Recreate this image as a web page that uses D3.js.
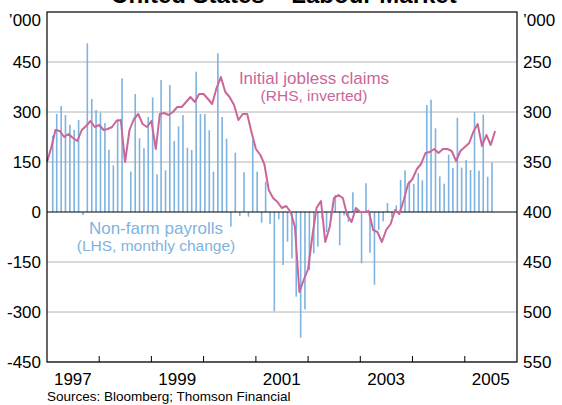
<!DOCTYPE html>
<html>
<head>
<meta charset="utf-8">
<script src="https://cdn.jsdelivr.net/npm/d3@7"></script>
<style>
    body { margin: 0; background: #fff; }
    text { font-family: Arial, "Liberation Sans", sans-serif; }
</style>
</head>
<body>
<div id="chart"></div>
<script>
// monthly change in non-farm payrolls ('000), Jan 1997 - Jun 2005
var payrolls = [
    229, 294, 318, 291, 262, 246, 276, -9, 506, 339, 306, 298,
    267, 187, 140, 279, 401, 0, 121, 354, 221, 191, 285, 344,
    113, 396, 125, 381, 213, 257, 291, 193, 186, 421, 294, 294,
    245, 121, 476, 285, 220, -44, 178, -12, 119, -14, 215, 121,
    -32, 91, -36, -298, -22, -159, -89, -139, -254, -377, -292, -174,
    -124, -104, -20, -60, -15, 51, -100, -10, -30, 59, 10, -154,
    86, -122, -218, -54, -28, 27, -15, 20, 96, 125, 93, 84,
    117, 95, 321, 337, 251, 107, 85, 172, 132, 283, 133, 156,
    126, 300, 124, 292, 106, 148
];

// initial jobless claims ('000), Jan 1997 - Aug 2005
var claims = [
    350, 335, 318, 319, 325, 322, 326, 329, 318, 314, 309, 315,
    313, 318, 317, 315, 309, 308, 350, 318, 307, 302, 312, 315,
    309, 337, 302, 301, 303, 300, 295, 295, 290, 285, 290, 282,
    282, 287, 292, 276, 265, 280, 285, 293, 308, 302, 302, 320,
    337, 343, 352, 378, 386, 390, 396, 394, 400, 415, 480, 468,
    457, 423, 396, 389, 430, 415, 386, 383, 386, 403, 410, 396,
    400, 400, 399, 418, 420, 430, 418, 412, 398, 402, 388, 372,
    367, 357, 352, 341, 340, 337, 341, 337, 337, 339, 349, 339,
    335, 331, 320, 312, 334, 323, 333, 319
];

var leftTicks = [-450, -300, -150, 0, 150, 300, 450];
var rightTicks = [250, 300, 350, 400, 450, 500, 550];
var yearTicks = [1998, 1999, 2000, 2001, 2002, 2003, 2004, 2005];
var yearLabels = [1997, 1999, 2001, 2003, 2005];

var BAR_COLOR = "#7fb3e0",
    LINE_COLOR = "#c9679a";

var svg = d3.select("#chart").append("svg").attr("width", 562).attr("height", 405),
    margin = {top: 12, right: 45, bottom: 43, left: 47},
    width = +svg.attr("width") - margin.left - margin.right,
    height = +svg.attr("height") - margin.top - margin.bottom;

var x = d3.scaleTime()
    .domain([new Date(1997, 0, 1), new Date(2006, 0, 1)])
    .range([0, width]);
var yLeft = d3.scaleLinear().domain([-450, 600]).range([height, 0]);
var yRight = d3.scaleLinear().domain([200, 550]).range([0, height]);   // inverted

svg.append("text")
    .attr("x", 284).attr("y", 3)
    .attr("text-anchor", "middle")
    .style("font-size", "24px").style("font-weight", "bold")
    .text("United States – Labour Market");

var g = svg.append("g")
    .attr("transform", "translate(" + margin.left + "," + margin.top + ")");

// gridlines
g.selectAll(".grid")
    .data(leftTicks.filter(function(d) { return d !== 0; }))
    .enter().append("line")
    .attr("class", "grid")
    .attr("x1", 0).attr("x2", width)
    .attr("y1", function(d) { return yLeft(d); })
    .attr("y2", function(d) { return yLeft(d); })
    .attr("stroke", "#b4b4b4").attr("stroke-width", 1);

// payroll bars
g.selectAll(".bar")
    .data(payrolls)
    .enter().append("rect")
    .attr("class", "bar")
    .attr("x", function(d, i) { return x(new Date(1997, i + 1, 10)) - 0.8; })
    .attr("width", 1.6)
    .attr("y", function(d) { return yLeft(Math.max(d, 0)); })
    .attr("height", function(d) { return Math.abs(yLeft(d) - yLeft(0)); })
    .attr("fill", BAR_COLOR);

// zero line
g.append("line")
    .attr("x1", 0).attr("x2", width)
    .attr("y1", yLeft(0)).attr("y2", yLeft(0))
    .attr("stroke", "#000").attr("stroke-width", 1.2);

// claims line
var line = d3.line()
    .x(function(d, i) { return x(new Date(1997, i, 1)); })
    .y(function(d) { return yRight(d); });

g.append("path")
    .datum(claims)
    .attr("fill", "none")
    .attr("stroke", LINE_COLOR)
    .attr("stroke-width", 2)
    .attr("stroke-linejoin", "round")
    .attr("d", line);

// frame
g.append("rect")
    .attr("width", width).attr("height", height)
    .attr("fill", "none").attr("stroke", "#000").attr("stroke-width", 1.2);

// axes
var axisLeft = g.append("g")
    .call(d3.axisLeft(yLeft).tickValues(leftTicks).tickSize(0).tickPadding(6)
        .tickFormat(function(d) { return String(d); }));
var axisRight = g.append("g")
    .attr("transform", "translate(" + width + ",0)")
    .call(d3.axisRight(yRight).tickValues(rightTicks).tickSize(0).tickPadding(6)
        .tickFormat(function(d) { return String(d); }));
[axisLeft, axisRight].forEach(function(a) {
    a.select(".domain").remove();
    a.selectAll("text").style("font-size", "17px").style("font-family", "Arial, 'Liberation Sans', sans-serif").attr("fill", "#000");
});

g.append("text").attr("x", -6).attr("y", 14).attr("text-anchor", "end")
    .style("font-size", "17px").text("’000");
g.append("text").attr("x", width + 6).attr("y", 14).attr("text-anchor", "start")
    .style("font-size", "17px").text("’000");

// year ticks (pointing inward) and labels
g.selectAll(".ytick")
    .data(yearTicks)
    .enter().append("line")
    .attr("x1", function(d) { return x(new Date(d, 0, 1)); })
    .attr("x2", function(d) { return x(new Date(d, 0, 1)); })
    .attr("y1", height).attr("y2", height - 6)
    .attr("stroke", "#000").attr("stroke-width", 1);

g.selectAll(".ylabel")
    .data(yearLabels)
    .enter().append("text")
    .attr("x", function(d) { return x(new Date(d, 6, 1)); })
    .attr("y", height + 23)
    .attr("text-anchor", "middle")
    .style("font-size", "17px")
    .text(function(d) { return d; });

// series labels
g.append("text").attr("x", 267).attr("y", 72).attr("text-anchor", "middle")
    .attr("fill", LINE_COLOR).style("font-size", "17px").text("Initial jobless claims");
g.append("text").attr("x", 267).attr("y", 89).attr("text-anchor", "middle")
    .attr("fill", LINE_COLOR).style("font-size", "15.5px").text("(RHS, inverted)");
g.append("text").attr("x", 109).attr("y", 222).attr("text-anchor", "middle")
    .attr("fill", BAR_COLOR).style("font-size", "17px").text("Non-farm payrolls");
g.append("text").attr("x", 109).attr("y", 239).attr("text-anchor", "middle")
    .attr("fill", BAR_COLOR).style("font-size", "15.5px").text("(LHS, monthly change)");

svg.append("text")
    .attr("x", 47).attr("y", 401)
    .style("font-size", "13.5px")
    .text("Sources: Bloomberg; Thomson Financial");
</script>
</body>
</html>
